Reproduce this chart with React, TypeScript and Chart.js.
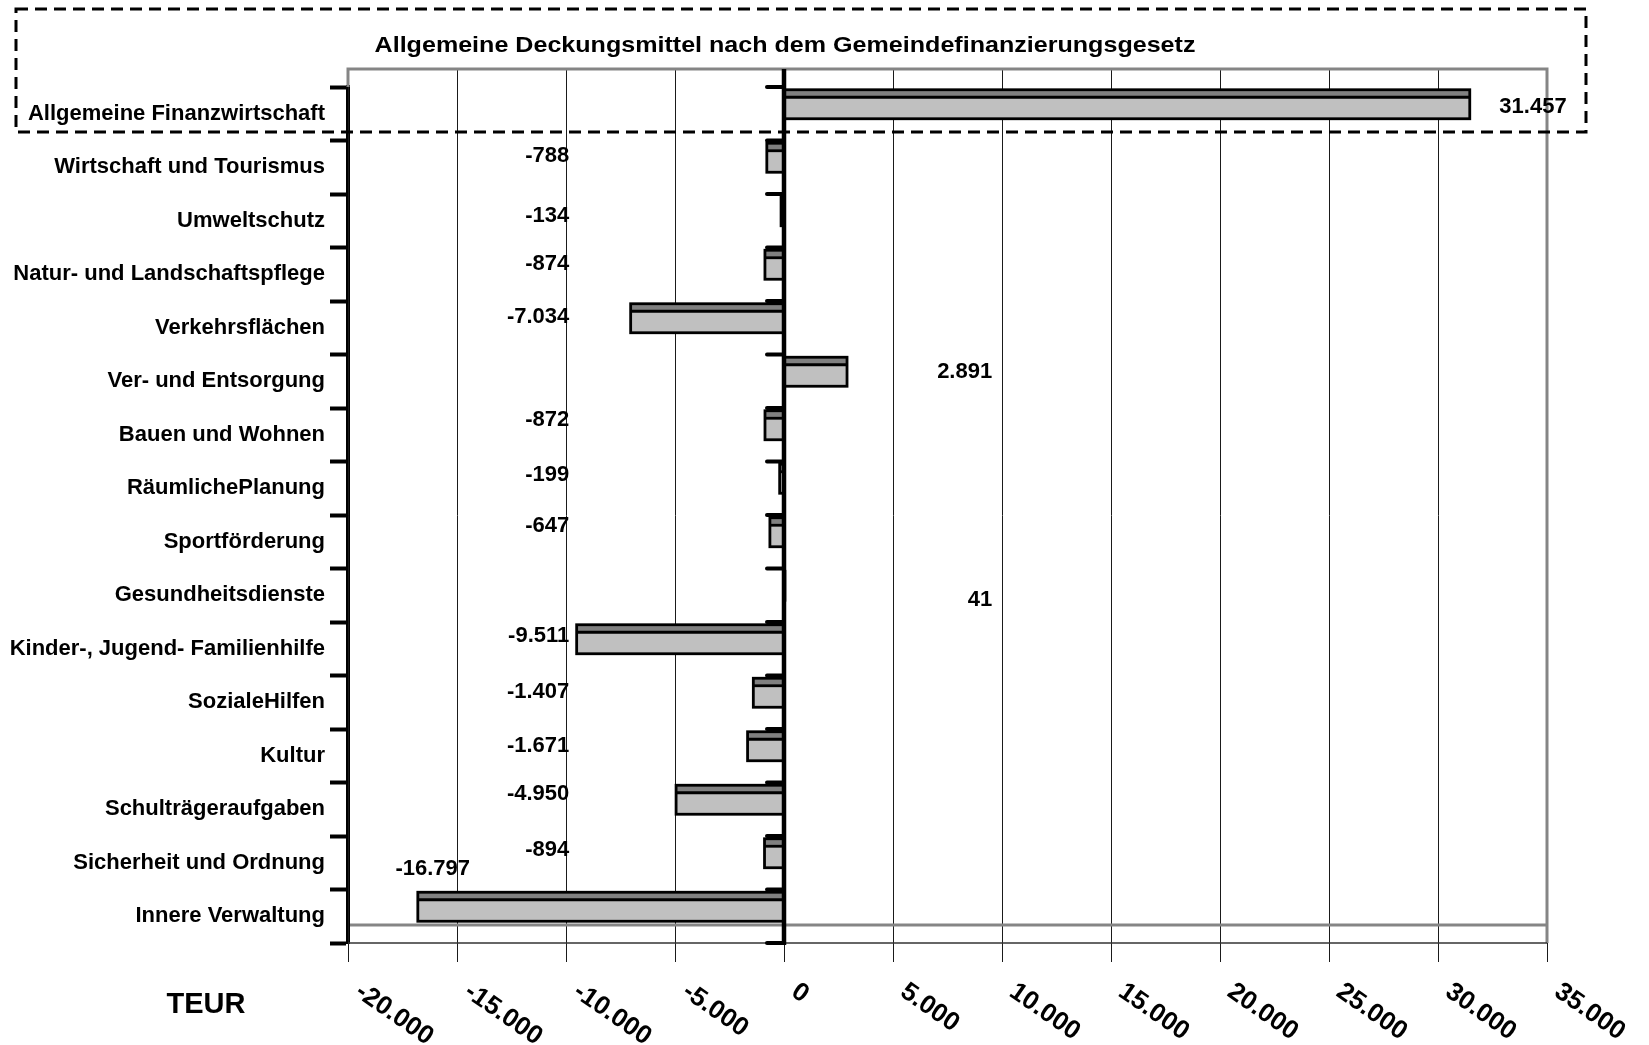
import React, { useEffect, useRef } from "react";
import { Chart, registerables } from "chart.js";

Chart.register(...registerables);

// ---------- data ----------
const chartTitle = "Allgemeine Deckungsmittel nach dem Gemeindefinanzierungsgesetz";
const unitLabel = "TEUR";

const categories = [
  "Allgemeine Finanzwirtschaft",
  "Wirtschaft und Tourismus",
  "Umweltschutz",
  "Natur- und Landschaftspflege",
  "Verkehrsflächen",
  "Ver- und Entsorgung",
  "Bauen und Wohnen",
  "RäumlichePlanung",
  "Sportförderung",
  "Gesundheitsdienste",
  "Kinder-, Jugend- Familienhilfe",
  "SozialeHilfen",
  "Kultur",
  "Schulträgeraufgaben",
  "Sicherheit und Ordnung",
  "Innere Verwaltung",
];

const values = [
  31457, -788, -134, -874, -7034, 2891, -872, -199, -647, 41, -9511, -1407, -1671, -4950, -894, -16797,
];

const xTickValues = [-20000, -15000, -10000, -5000, 0, 5000, 10000, 15000, 20000, 25000, 30000, 35000];
const xTickLabels = [
  "-20.000", "-15.000", "-10.000", "-5.000", "0", "5.000", "10.000", "15.000", "20.000", "25.000", "30.000", "35.000",
];

// ---------- layout / style ----------
const W = 1649;
const H = 1045;
const FONT = '"Liberation Sans", Arial, Helvetica, sans-serif';
const DEPTH = 18; // 3D back-wall offset in px
const BAR_SHIFT = 9.5;
const STRIP = 7.5;
// vertical nudges of the value labels (px), as placed in the original
const labelShiftY = [-6.5, -11, -4.5, -10.5, -10.5, -9, -14.5, -13, -15.5, 5, -12.5, -10, -9.5, -15, -12.5, -47];

function fmt(v: number): string {
  const s = Math.abs(v).toString().replace(/\B(?=(\d{3})+(?!\d))/g, ".");
  return (v < 0 ? "-" : "") + s;
}

// right edge of a value label, in axis units
function labelRightAt(v: number): number {
  if (v >= 0) return v > 20000 ? 35900 : 9550;
  return v < -12000 ? -14400 : -9850;
}

const decorPlugin = {
  id: "decor",
  beforeDatasetsDraw(chart: any) {
    const { ctx, chartArea: a, scales } = chart;
    const x = scales.x;
    ctx.save();
    // vertical grid lines (extend to back wall and below as ticks)
    ctx.strokeStyle = "#1a1a1a";
    ctx.lineWidth = 1;
    xTickValues.forEach((v) => {
      const px = Math.round(x.getPixelForValue(v)) + 0.5;
      ctx.beginPath();
      ctx.moveTo(px, a.top - DEPTH);
      ctx.lineTo(px, a.bottom + 19);
      ctx.stroke();
    });
    // gray back frame
    ctx.strokeStyle = "#858585";
    ctx.lineWidth = 3;
    ctx.beginPath();
    ctx.moveTo(a.left, a.top);
    ctx.lineTo(a.left, a.top - DEPTH);
    ctx.lineTo(a.right, a.top - DEPTH);
    ctx.lineTo(a.right, a.bottom);
    ctx.moveTo(a.left + 2, a.bottom - DEPTH);
    ctx.lineTo(a.right, a.bottom - DEPTH);
    ctx.stroke();
    // bottom axis line
    ctx.strokeStyle = "#333";
    ctx.lineWidth = 1.5;
    ctx.beginPath();
    ctx.moveTo(a.left, a.bottom);
    ctx.lineTo(a.right, a.bottom);
    ctx.stroke();
    ctx.restore();
  },
  afterDatasetsDraw(chart: any) {
    const { ctx, chartArea: a, scales } = chart;
    const x = scales.x;
    const y = scales.y;
    ctx.save();

    // bars with 3D top strip
    const meta = chart.getDatasetMeta(0);
    meta.data.forEach((el: any) => {
      const p = el.getProps(["x", "y", "base", "height"], true);
      const l = Math.min(p.x, p.base);
      const r = Math.max(p.x, p.base);
      const h = p.height;
      const top = p.y - h / 2 - BAR_SHIFT;
      ctx.fillStyle = "#c0c0c0";
      ctx.fillRect(l, top, r - l, h);
      ctx.fillStyle = "#808080";
      ctx.fillRect(l, top, r - l, STRIP);
      ctx.strokeStyle = "#000";
      ctx.lineWidth = 2.8;
      ctx.strokeRect(l, top, r - l, h);
      ctx.beginPath();
      ctx.moveTo(l, top + STRIP);
      ctx.lineTo(r, top + STRIP);
      ctx.stroke();
    });

    // zero axis line
    const x0 = x.getPixelForValue(0);
    ctx.strokeStyle = "#000";
    ctx.lineWidth = 4.5;
    ctx.beginPath();
    ctx.moveTo(x0, a.top - DEPTH);
    ctx.lineTo(x0, a.bottom + 2);
    ctx.stroke();
    // category ticks on zero axis
    const half = (y.getPixelForValue(1) - y.getPixelForValue(0)) / 2;
    ctx.lineWidth = 4;
    ctx.lineCap = "round";
    for (let i = 0; i <= categories.length; i++) {
      const yb = y.getPixelForValue(0) - half + i * 2 * half;
      ctx.beginPath();
      ctx.moveTo(x0 - 17, yb);
      ctx.lineTo(x0, yb);
      ctx.stroke();
    }
    ctx.lineCap = "butt";

    // value labels
    ctx.fillStyle = "#000";
    ctx.font = `bold 22px ${FONT}`;
    ctx.textAlign = "right";
    ctx.textBaseline = "middle";
    values.forEach((v, i) => {
      const px = x.getPixelForValue(labelRightAt(v));
      const py = y.getPixelForValue(i) + labelShiftY[i];
      ctx.fillText(fmt(v), px, py);
    });

    // rotated x tick labels
    ctx.font = `bold 26px ${FONT}`;
    ctx.textAlign = "left";
    ctx.textBaseline = "alphabetic";
    xTickValues.forEach((v, i) => {
      const px = x.getPixelForValue(v);
      ctx.save();
      ctx.translate(px + 6, a.bottom + 52);
      ctx.rotate((35 * Math.PI) / 180);
      ctx.fillText(xTickLabels[i], 0, 0);
      ctx.restore();
    });

    // unit label
    ctx.font = `bold 29px ${FONT}`;
    ctx.textAlign = "center";
    ctx.fillText(unitLabel, 206, 1013);

    // title (slightly widened like the original)
    ctx.save();
    ctx.translate(x0 + 1, 52);
    ctx.scale(1.14, 1);
    ctx.font = `bold 22px ${FONT}`;
    ctx.textAlign = "center";
    ctx.fillText(chartTitle, 0, 0);
    ctx.restore();

    // dashed highlight box
    ctx.strokeStyle = "#000";
    ctx.lineWidth = 3;
    ctx.setLineDash([12, 7]);
    ctx.strokeRect(16, 9, 1570, 123);
    ctx.setLineDash([]);

    ctx.restore();
  },
};

export default function App() {
  const canvasRef = useRef<HTMLCanvasElement | null>(null);

  useEffect(() => {
    const canvas = canvasRef.current;
    if (!canvas) return;
    const chart = new Chart(canvas, {
      type: "bar",
      data: {
        labels: categories,
        datasets: [
          {
            data: values,
            backgroundColor: "rgba(0,0,0,0)",
            borderWidth: 0,
            barThickness: 29,
          },
        ],
      },
      options: {
        indexAxis: "y",
        responsive: false,
        animation: false,
        layout: { padding: { top: 87, right: 102, bottom: 0, left: 0 } },
        plugins: {
          legend: { display: false },
          tooltip: { enabled: false },
          title: { display: false },
        },
        scales: {
          x: {
            type: "linear",
            min: -20000,
            max: 35000,
            ticks: { display: false, stepSize: 5000 },
            grid: { display: false },
            border: { display: false },
            afterFit: (s: any) => {
              s.height = 102;
            },
          },
          y: {
            type: "category",
            position: "left",
            ticks: {
              color: "#000",
              padding: 5,
              font: { family: FONT, size: 22, weight: "bold" },
            },
            grid: {
              drawOnChartArea: false,
              drawTicks: true,
              tickLength: 18,
              tickWidth: 4,
              tickColor: "#000",
              offset: true,
            },
            border: { display: true, color: "#000", width: 4 },
            afterFit: (s: any) => {
              s.width = 348;
            },
          },
        },
      } as any,
      plugins: [decorPlugin],
    });
    return () => chart.destroy();
  }, []);

  return (
    <div style={{ position: "absolute", left: 0, top: 0, width: W, height: H, background: "#fff" }}>
      <canvas ref={canvasRef} width={W} height={H} style={{ width: W, height: H, display: "block" }} />
    </div>
  );
}
